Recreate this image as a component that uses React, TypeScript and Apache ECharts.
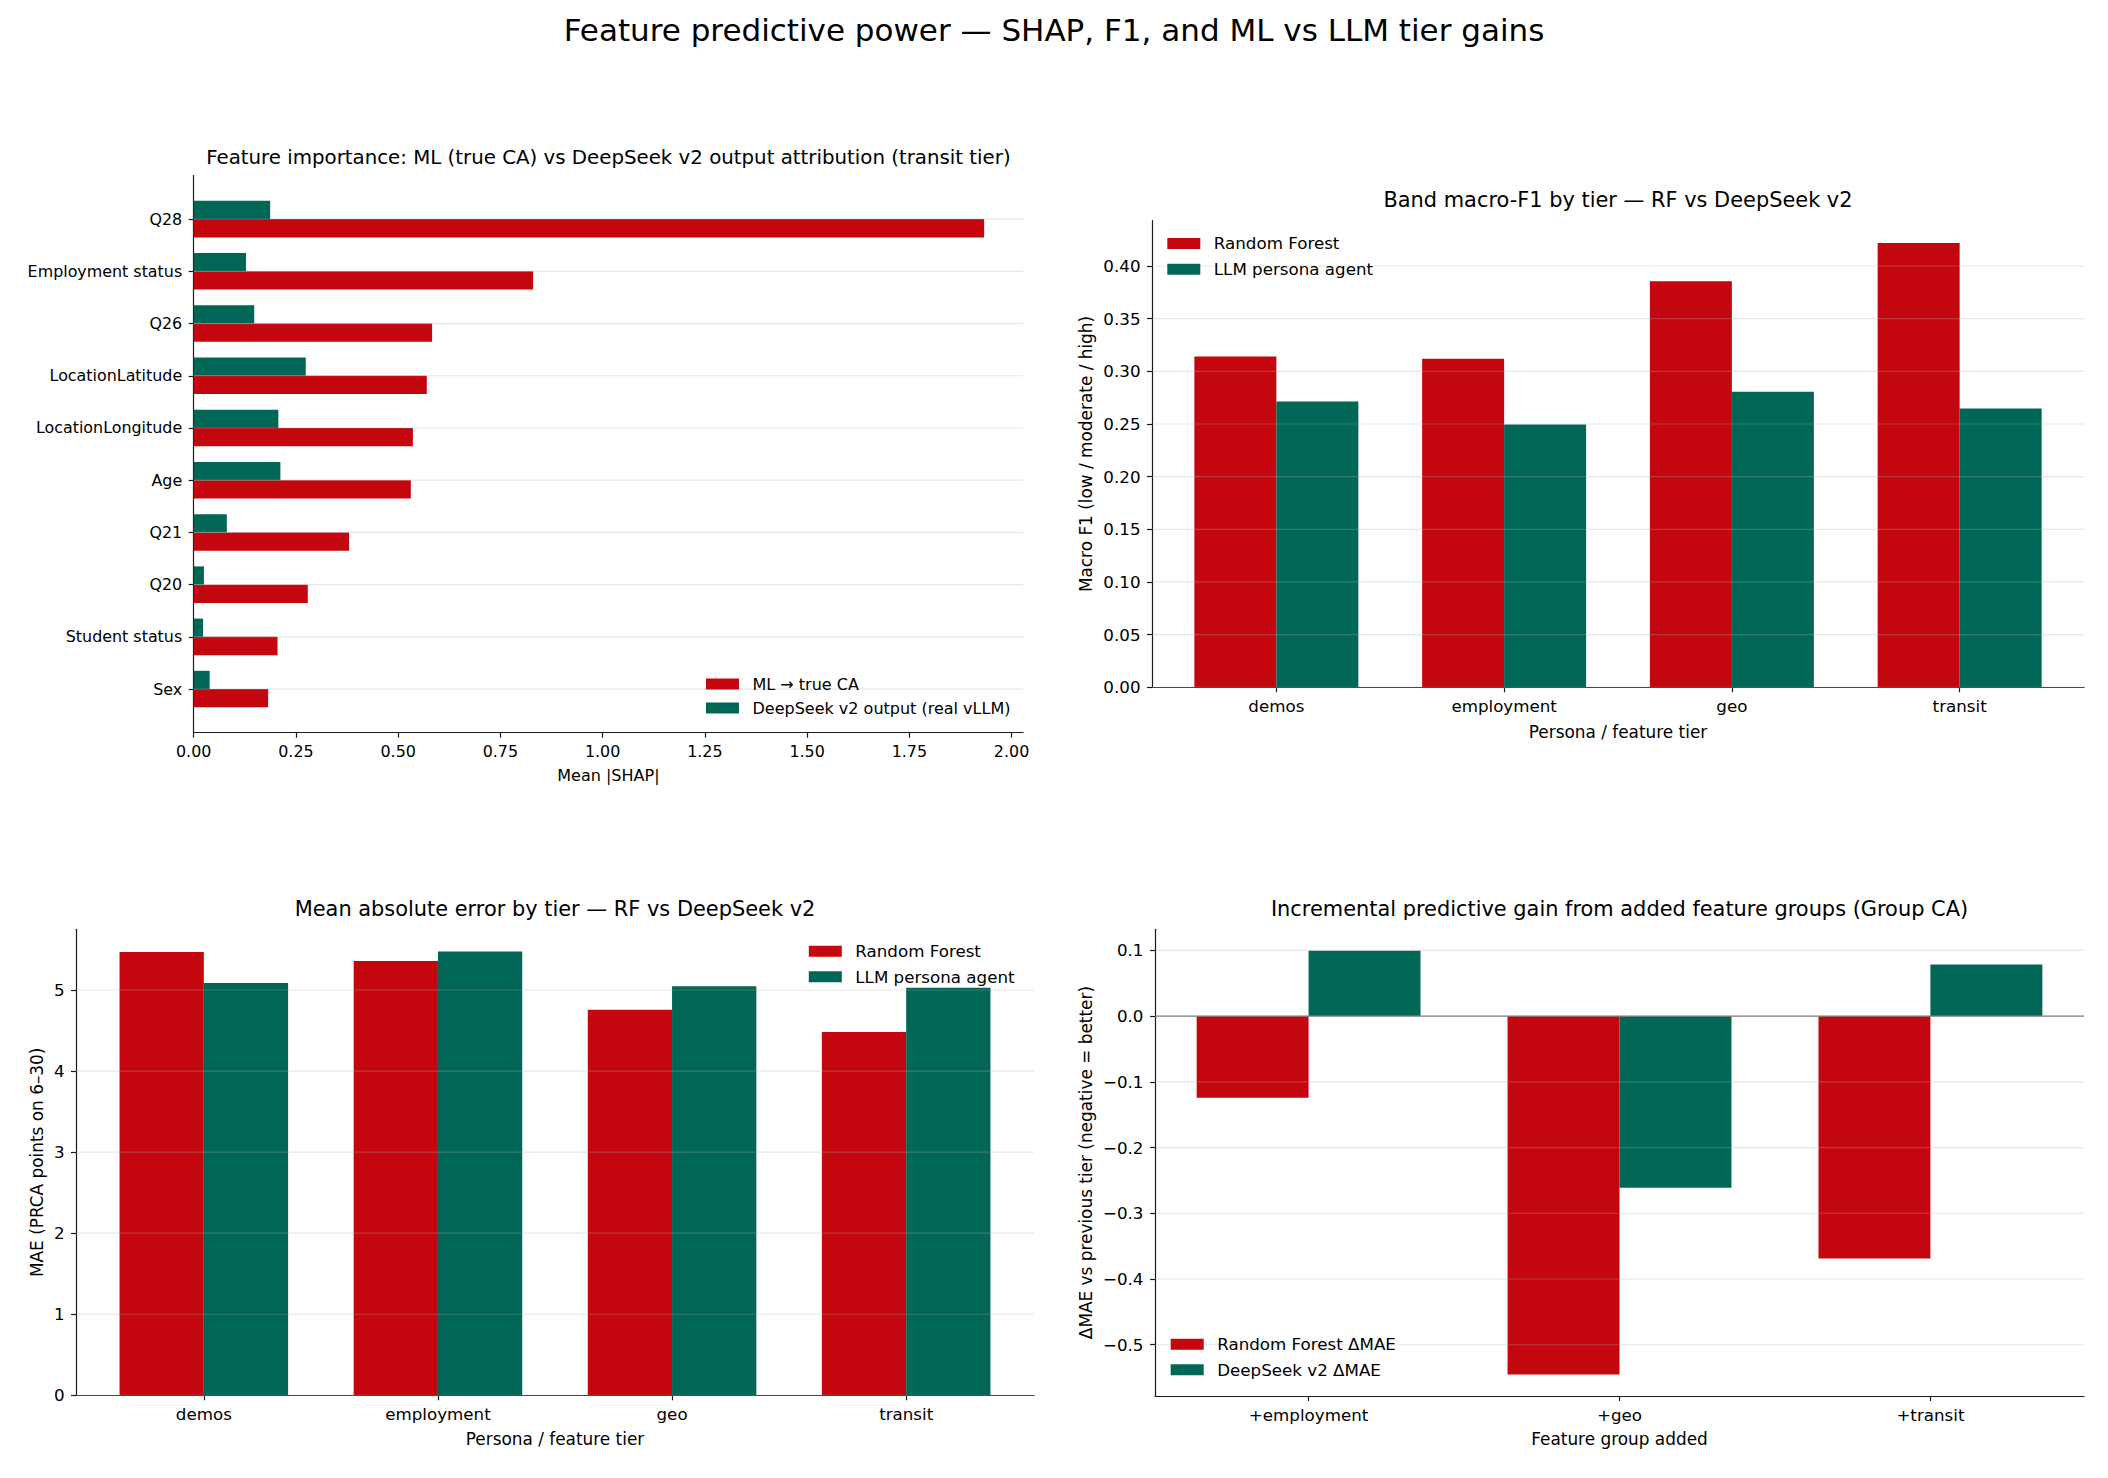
import React, { useEffect, useRef } from 'react';
import * as echarts from 'echarts';

const FONT = "'DejaVu Sans', 'Liberation Sans', sans-serif";
const RED = '#c4060f';
const TEAL = '#006656';
const INK = '#000000';
const SPINE = '#1a1a1a';

// Panel 1: SHAP importance (transit tier)
const shapFeatures = ['Q28', 'Employment status', 'Q26', 'LocationLatitude', 'LocationLongitude', 'Age', 'Q21', 'Q20', 'Student status', 'Sex'];
const shapML = [1.933, 0.830, 0.583, 0.570, 0.536, 0.531, 0.380, 0.279, 0.205, 0.182];
const shapLLM = [0.187, 0.128, 0.148, 0.274, 0.207, 0.212, 0.081, 0.025, 0.023, 0.039];
const shapTicks = [0, 0.25, 0.5, 0.75, 1.0, 1.25, 1.5, 1.75, 2.0];

// Panel 2: macro-F1 by tier
const tiers = ['demos', 'employment', 'geo', 'transit'];
const f1RF = [0.314, 0.312, 0.3855, 0.4218];
const f1LLM = [0.2713, 0.2495, 0.2807, 0.2647];
const f1Ticks = [0, 0.05, 0.1, 0.15, 0.2, 0.25, 0.3, 0.35, 0.4];

// Panel 3: MAE by tier
const maeRF = [5.47, 5.357, 4.755, 4.483];
const maeLLM = [5.085, 5.475, 5.047, 5.028];
const maeTicks = [0, 1, 2, 3, 4, 5];

// Panel 4: incremental gain
const groupsAdded = ['+employment', '+geo', '+transit'];
const deltaRF = [-0.1243, -0.5453, -0.3688];
const deltaDS = [0.0993, -0.2613, 0.0784];
const deltaTicks = [-0.5, -0.4, -0.3, -0.2, -0.1, 0, 0.1];

const BAR_H = 0.35;
const BAR_W = 0.36;

// font sizes
const TL_TICK = 15.9;
const TL_LEG = 16;
const TL_LABEL = 16;
const TL_TITLE = 19.8;
const TICK = 16.7;
const LEG = 16.7;
const LABEL = 16.9;
const TITLE = 20.9;
const SUPTITLE = 31;

function rectBetween(a: number[], b: number[], color: string) {
  return {
    type: 'rect',
    shape: {
      x: Math.min(a[0], b[0]),
      y: Math.min(a[1], b[1]),
      width: Math.abs(b[0] - a[0]),
      height: Math.abs(b[1] - a[1]),
    },
    style: { fill: color },
  };
}

function vBar(o0: number, o1: number, color: string) {
  return (_p: any, api: any) => {
    const i = api.value(0);
    const v = api.value(1);
    return rectBetween(api.coord([i + o0, 0]), api.coord([i + o1, v]), color);
  };
}

function hBar(o0: number, o1: number, color: string) {
  return (_p: any, api: any) => {
    const v = api.value(0);
    const i = api.value(1);
    return rectBetween(api.coord([0, i + o0]), api.coord([v, i + o1]), color);
  };
}

function hLine(color: string, width: number) {
  return (params: any, api: any) => {
    const y = api.coord([api.value(0), api.value(1)])[1];
    const cs = params.coordSys;
    return {
      type: 'line',
      shape: { x1: cs.x, y1: y, x2: cs.x + cs.width, y2: y },
      style: { stroke: color, lineWidth: width },
    };
  };
}

const GRID_COLOR = 'rgba(176,176,176,0.3)';

function axisBase(
  gridIndex: number,
  min: number,
  max: number,
  ticks: number[],
  fmt: (v: number) => string,
  isX: boolean,
  fontSize: number,
  extra: any = {},
) {
  return {
    gridIndex,
    type: 'value',
    min,
    max,
    axisLine: { show: true, onZero: false, lineStyle: { color: SPINE, width: 1.2 } },
    axisTick: { show: true, length: 5, customValues: ticks, lineStyle: { color: SPINE, width: 1.2 } },
    axisLabel: {
      customValues: ticks,
      formatter: fmt,
      fontSize,
      fontFamily: FONT,
      color: INK,
      margin: isX ? 18.5 : 11.5,
      ...(isX ? { verticalAlign: 'middle' } : {}),
    },
    splitLine: { show: false },
    ...extra,
  };
}

function legendAt(names: string[], left: number, firstRowCenter: number, rowSpacing: number, fontSize: number) {
  return {
    data: names,
    orient: 'vertical',
    left,
    top: firstRowCenter - fontSize / 2,
    padding: 0,
    itemGap: rowSpacing - fontSize,
    itemWidth: 33,
    itemHeight: 11,
    icon: 'rect',
    selectedMode: false,
    textStyle: { fontSize, fontFamily: FONT, color: INK, lineHeight: fontSize, padding: [0, 0, 0, 8.5] },
  };
}

function label(text: string, x: number, y: number, size: number, rotation = 0) {
  return {
    type: 'text',
    x,
    y,
    rotation,
    silent: true,
    style: {
      text,
      fontSize: size,
      fontFamily: FONT,
      fill: INK,
      align: 'center',
      verticalAlign: 'middle',
      textAlign: 'center',
      textVerticalAlign: 'middle',
    },
  };
}

const fmt2 = (v: number) => v.toFixed(2);
const fmtInt = (v: number) => String(Math.round(v));
const fmt1m = (v: number) => {
  const s = Math.abs(v).toFixed(1);
  return v < -1e-9 ? '\u2212' + s : s;
};

function buildOption() {
  const G = [
    { left: 193.7, top: 175.5, width: 829.3, height: 557.2 },
    { left: 1152, top: 220.7, width: 932, height: 466.6 },
    { left: 76, top: 929.3, width: 958, height: 466 },
    { left: 1155, top: 929.3, width: 929, height: 466.7 },
  ];
  const idx10 = shapFeatures.map((_, i) => i);
  const idx4 = tiers.map((_, i) => i);
  const idx3 = groupsAdded.map((_, i) => i);

  return {
    animation: false,
    backgroundColor: '#ffffff',
    textStyle: { fontFamily: FONT },
    grid: G.map((g) => ({ ...g, containLabel: false, show: false })),
    xAxis: [
      axisBase(0, 0, 2.028, shapTicks, fmt2, true, TL_TICK),
      axisBase(1, -0.546, 3.546, idx4, (v) => tiers[Math.round(v)], true, TICK),
      axisBase(2, -0.546, 3.546, idx4, (v) => tiers[Math.round(v)], true, TICK),
      axisBase(3, -0.494, 2.494, idx3, (v) => groupsAdded[Math.round(v)], true, TICK),
    ],
    yAxis: [
      axisBase(0, -0.835, 9.835, idx10, (v) => shapFeatures[Math.round(v)], false, TL_TICK, { inverse: true }),
      axisBase(1, 0, 0.443, f1Ticks, fmt2, false, TICK),
      axisBase(2, 0, 5.749, maeTicks, fmtInt, false, TICK),
      axisBase(3, -0.578, 0.132, deltaTicks, fmt1m, false, TICK),
    ],
    legend: [
      legendAt(['ML \u2192 true CA', 'DeepSeek v2 output (real vLLM)'], 706, 684, 24, TL_LEG),
      legendAt(['Random Forest', 'LLM persona agent'], 1167.3, 243.3, 25.4, LEG),
      legendAt(['Random Forest', 'LLM persona agent'], 808.8, 951, 25.4, LEG),
      legendAt(['Random Forest \u0394MAE', 'DeepSeek v2 \u0394MAE'], 1170.7, 1344, 25.4, LEG),
    ],
    series: [
      // Panel 1
      { type: 'custom', name: 'ML \u2192 true CA', xAxisIndex: 0, yAxisIndex: 0, z: 2, itemStyle: { color: RED },
        renderItem: hBar(0, BAR_H, RED), data: shapML.map((v, i) => [v, i]) },
      { type: 'custom', name: 'DeepSeek v2 output (real vLLM)', xAxisIndex: 0, yAxisIndex: 0, z: 2, itemStyle: { color: TEAL },
        renderItem: hBar(-BAR_H, 0, TEAL), data: shapLLM.map((v, i) => [v, i]) },
      { type: 'custom', xAxisIndex: 0, yAxisIndex: 0, z: 3, silent: true,
        renderItem: hLine(GRID_COLOR, 1.2), data: idx10.map((i) => [0, i]) },
      // Panel 2
      { type: 'custom', name: 'Random Forest', xAxisIndex: 1, yAxisIndex: 1, z: 2, itemStyle: { color: RED },
        renderItem: vBar(-BAR_W, 0, RED), data: f1RF.map((v, i) => [i, v]) },
      { type: 'custom', name: 'LLM persona agent', xAxisIndex: 1, yAxisIndex: 1, z: 2, itemStyle: { color: TEAL },
        renderItem: vBar(0, BAR_W, TEAL), data: f1LLM.map((v, i) => [i, v]) },
      { type: 'custom', xAxisIndex: 1, yAxisIndex: 1, z: 3, silent: true,
        renderItem: hLine(GRID_COLOR, 1.2), data: f1Ticks.map((t) => [0, t]) },
      // Panel 3
      { type: 'custom', name: 'Random Forest', xAxisIndex: 2, yAxisIndex: 2, z: 2, itemStyle: { color: RED },
        renderItem: vBar(-BAR_W, 0, RED), data: maeRF.map((v, i) => [i, v]) },
      { type: 'custom', name: 'LLM persona agent', xAxisIndex: 2, yAxisIndex: 2, z: 2, itemStyle: { color: TEAL },
        renderItem: vBar(0, BAR_W, TEAL), data: maeLLM.map((v, i) => [i, v]) },
      { type: 'custom', xAxisIndex: 2, yAxisIndex: 2, z: 3, silent: true,
        renderItem: hLine(GRID_COLOR, 1.2), data: maeTicks.map((t) => [0, t]) },
      // Panel 4
      { type: 'custom', name: 'Random Forest \u0394MAE', xAxisIndex: 3, yAxisIndex: 3, z: 2, itemStyle: { color: RED },
        renderItem: vBar(-BAR_W, 0, RED), data: deltaRF.map((v, i) => [i, v]) },
      { type: 'custom', name: 'DeepSeek v2 \u0394MAE', xAxisIndex: 3, yAxisIndex: 3, z: 2, itemStyle: { color: TEAL },
        renderItem: vBar(0, BAR_W, TEAL), data: deltaDS.map((v, i) => [i, v]) },
      { type: 'custom', xAxisIndex: 3, yAxisIndex: 3, z: 3, silent: true,
        renderItem: hLine(GRID_COLOR, 1.2), data: deltaTicks.map((t) => [0, t]) },
      { type: 'custom', xAxisIndex: 3, yAxisIndex: 3, z: 4, silent: true,
        renderItem: hLine('#808080', 1.2), data: [[0, 0]] },
    ],
    graphic: [
      label('Feature predictive power \u2014 SHAP, F1, and ML vs LLM tier gains', 1054, 30, SUPTITLE),
      label('Feature importance: ML (true CA) vs DeepSeek v2 output attribution (transit tier)', 608.4, 157, TL_TITLE),
      label('Band macro-F1 by tier \u2014 RF vs DeepSeek v2', 1618, 200, TITLE),
      label('Mean absolute error by tier \u2014 RF vs DeepSeek v2', 555, 909, TITLE),
      label('Incremental predictive gain from added feature groups (Group CA)', 1619.5, 909, TITLE),
      label('Mean |SHAP|', 608.4, 775, TL_LABEL),
      label('Persona / feature tier', 1618, 732, LABEL),
      label('Persona / feature tier', 555, 1438.5, LABEL),
      label('Feature group added', 1619.5, 1438.5, LABEL),
      label('Macro F1 (low / moderate / high)', 1086.4, 454, LABEL, Math.PI / 2),
      label('MAE (PRCA points on 6\u201330)', 37.2, 1162.3, LABEL, Math.PI / 2),
      label('\u0394MAE vs previous tier (negative = better)', 1086.4, 1162.6, LABEL, Math.PI / 2),
    ],
  };
}

export default function App() {
  const ref = useRef<HTMLDivElement>(null);
  useEffect(() => {
    if (!ref.current) return;
    const chart = echarts.init(ref.current, undefined, { renderer: 'svg' });
    chart.setOption(buildOption() as any);
    return () => chart.dispose();
  }, []);
  return (
    <div
      ref={ref}
      style={{ position: 'absolute', left: 0, top: 0, width: 2108, height: 1478, background: '#ffffff' }}
    />
  );
}
